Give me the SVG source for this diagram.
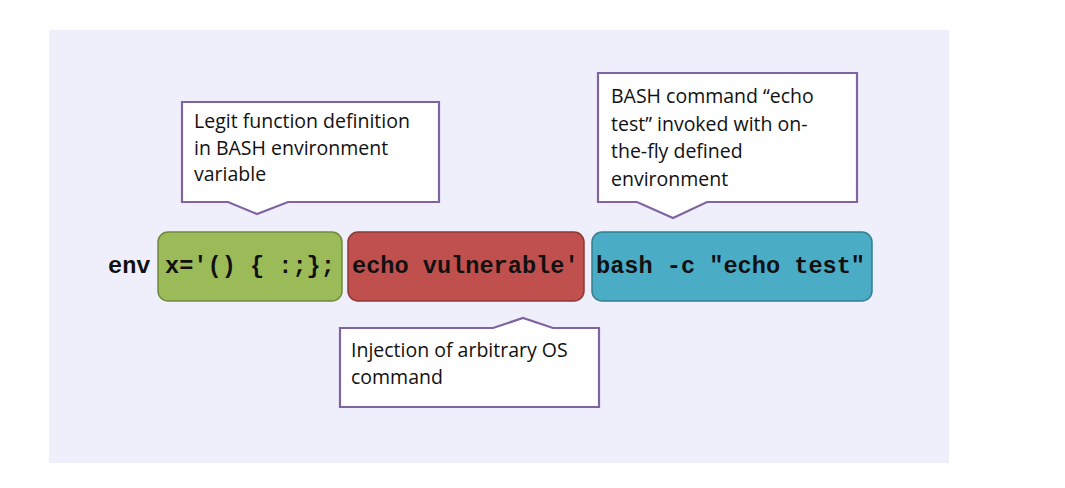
<svg xmlns="http://www.w3.org/2000/svg" width="1065" height="488" viewBox="0 0 1065 488">
<style>
.bg{fill:#EFEFFB}
.code{font-family:"Liberation Mono","Courier New",monospace;font-weight:bold;font-size:23.6px;fill:#111}
.call{fill:#fff;stroke:#8064A2;stroke-width:2.2;stroke-linejoin:miter}
.ct{font-family:"Open Sans","Liberation Sans",sans-serif;font-size:19.5px;fill:#111}
</style>
<rect width="1065" height="488" fill="#fff"/>
<rect class="bg" x="49" y="30" width="900" height="433"/>
<g id="env-label">
<text class="code" x="108" y="273">env</text>
</g>
<g id="node-function">
<rect x="158" y="232" width="184" height="69" rx="10" fill="#9BBB59" stroke="#71893F" stroke-width="1.5"/>
<text class="code" x="165" y="273" xml:space="preserve">x='() { :;};</text>
</g>
<g id="node-inject">
<rect x="348" y="232" width="236" height="69" rx="10" fill="#C0504D" stroke="#8C3836" stroke-width="1.5"/>
<text class="code" x="352" y="273">echo vulnerable'</text>
</g>
<g id="node-bash">
<rect x="592" y="232" width="280" height="69" rx="10" fill="#4BACC6" stroke="#357D91" stroke-width="1.5"/>
<text class="code" x="596" y="273">bash -c "echo test"</text>
</g>
<g id="callout-legit">
<path class="call" d="M182,102 H439 V202 H288 L257,214 L228,202 H182 Z"/>
<text class="ct" x="194" y="128">Legit function definition</text>
<text class="ct" x="194" y="155">in BASH environment</text>
<text class="ct" x="194" y="181">variable</text>
</g>
<g id="callout-bash">
<path class="call" d="M598,73 H857 V202 H707 L673,218 L637,202 H598 Z"/>
<text class="ct" x="611" y="103">BASH command “echo</text>
<text class="ct" x="611" y="131">test” invoked with on-</text>
<text class="ct" x="611" y="158">the-fly defined</text>
<text class="ct" x="611" y="186">environment</text>
</g>
<g id="callout-inject">
<path class="call" d="M340,328 H493 L523,318 L553,328 H599 V407 H340 Z"/>
<text class="ct" x="351" y="357">Injection of arbitrary OS</text>
<text class="ct" x="351" y="384">command</text>
</g>
<g id="connectors"></g>
</svg>
